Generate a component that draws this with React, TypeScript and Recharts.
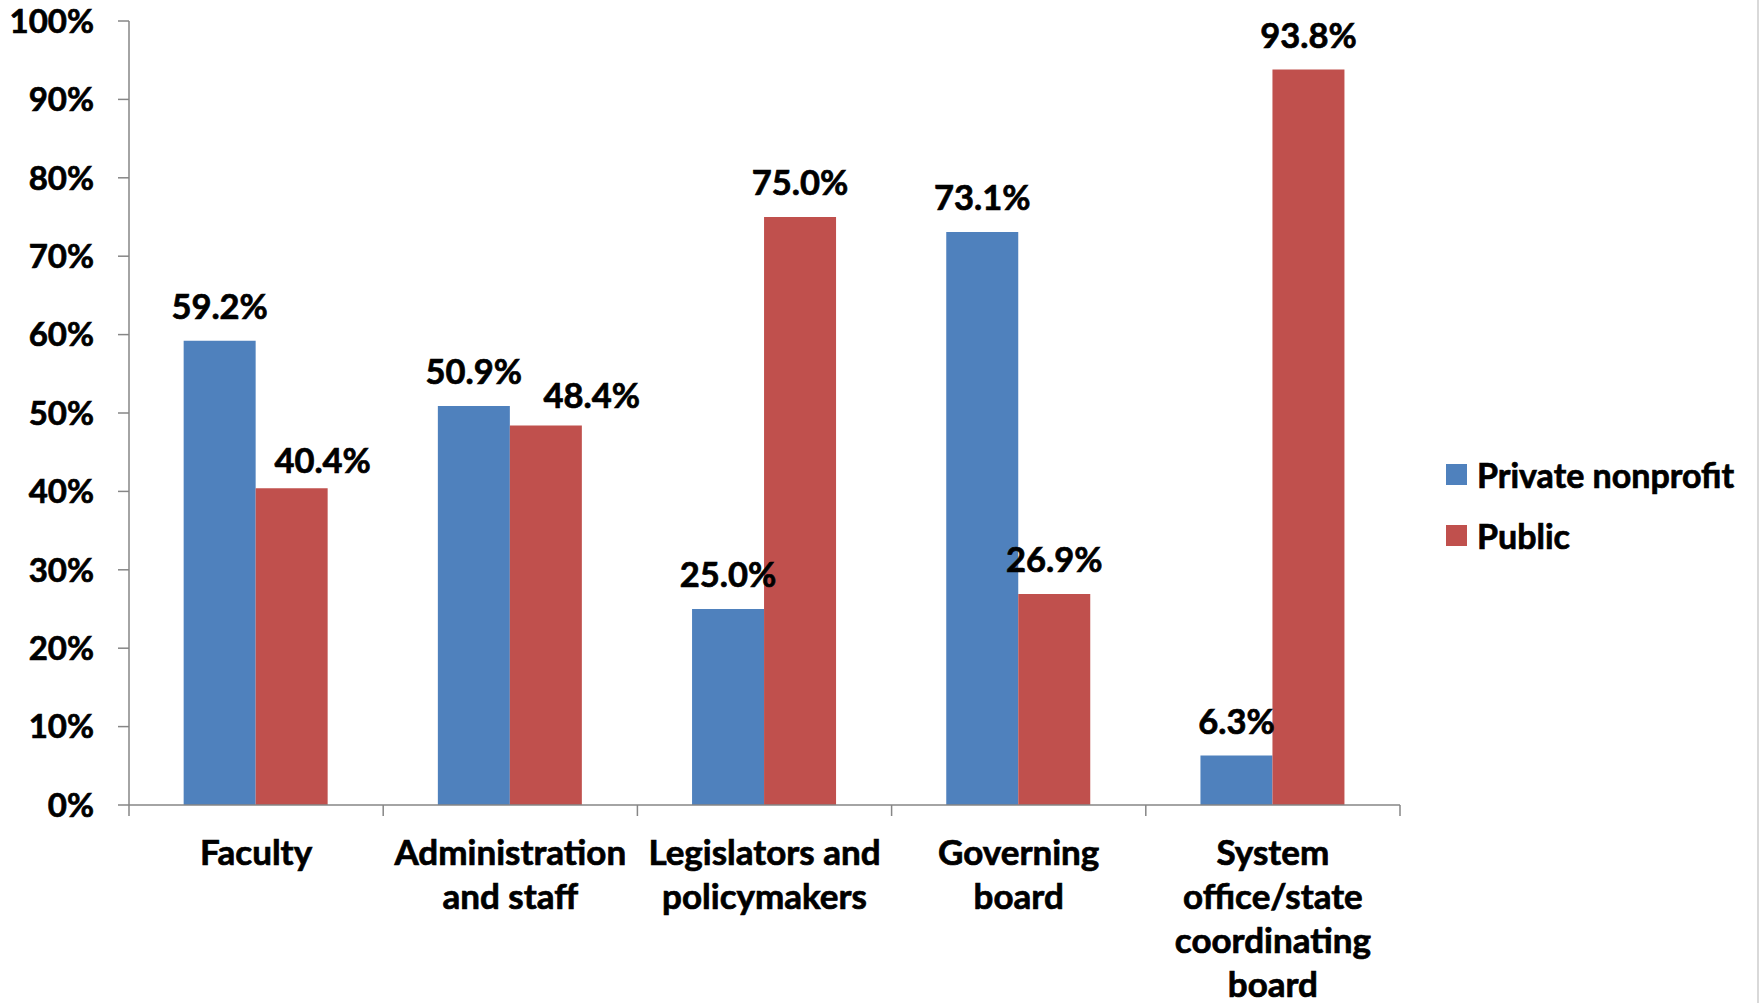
import React from 'react';
import { BarChart, Bar, XAxis, YAxis, Legend, LabelList } from 'recharts';

// categories (line breaks as in the original axis labels)
const categories = [
  'Faculty',
  'Administration\nand staff',
  'Legislators and\npolicymakers',
  'Governing\nboard',
  'System\noffice/state\ncoordinating\nboard',
];
const privateNonprofit = [59.2, 50.9, 25.0, 73.1, 6.3];
const publicInst = [40.4, 48.4, 75.0, 26.9, 93.8];
const yTicks = [0, 10, 20, 30, 40, 50, 60, 70, 80, 90, 100];

const seriesNames = { priv: 'Private nonprofit', pub: 'Public' };

const data = categories.map((name, i) => ({
  name,
  priv: privateNonprofit[i],
  pub: publicInst[i],
}));

const W = 1762;
const H = 1003;
const PLOT_LEFT = 129;
const PLOT_RIGHT = 1400;
const PLOT_TOP = 21;
const PLOT_BOTTOM = 805;
const BAND = (PLOT_RIGHT - PLOT_LEFT) / categories.length;
const FONT = 'Lato, "Open Sans", sans-serif';
const AXIS_GRAY = '#868686';
const TEXT_STROKE = 0.7;

// the original had two of the Public labels dragged aside so they don't collide
const pubLabelNudge: Record<number, [number, number]> = { 0: [31, 7], 1: [46, 4] };

function CategoryTick(props: any) {
  const { x, payload, index } = props;
  const lines = String(payload.value).split('\n');
  const left = x - BAND / 2;
  const right = x + BAND / 2;
  return (
    <g>
      <line x1={left} x2={left} y1={PLOT_BOTTOM} y2={PLOT_BOTTOM + 11} stroke={AXIS_GRAY} strokeWidth={1.5} />
      {index === categories.length - 1 && (
        <line x1={right} x2={right} y1={PLOT_BOTTOM} y2={PLOT_BOTTOM + 11} stroke={AXIS_GRAY} strokeWidth={1.5} />
      )}
      <text
        textAnchor="middle"
        fontFamily={FONT}
        fontWeight={700}
        fontSize={35}
        fill="#000"
        stroke="#000"
        strokeWidth={TEXT_STROKE}
      >
        {lines.map((l, i) => (
          <tspan key={i} x={x} y={PLOT_BOTTOM + 60 + i * 44}>
            {l}
          </tspan>
        ))}
      </text>
    </g>
  );
}

function ValueLabel(props: any) {
  const { x, y, width, value, index, nudge } = props;
  const [dx, dy] = (nudge && nudge[index]) || [0, 0];
  return (
    <text
      x={x + width / 2 + dx}
      y={y - 22 + dy}
      textAnchor="middle"
      fontFamily={FONT}
      fontWeight={700}
      fontSize={34.5}
      fill="#000"
      stroke="#000"
      strokeWidth={TEXT_STROKE}
    >
      {`${Number(value).toFixed(1)}%`}
    </text>
  );
}

function YTick(props: any) {
  const { x, y, payload } = props;
  return (
    <text
      x={x}
      y={y}
      dy="0.355em"
      textAnchor="end"
      fontFamily={FONT}
      fontWeight={700}
      fontSize={33}
      fill="#000"
      stroke="#000"
      strokeWidth={TEXT_STROKE}
    >
      {`${payload.value}%`}
    </text>
  );
}

function LegendBox(props: any) {
  const { payload } = props;
  return (
    <div
      style={{
        fontFamily: FONT,
        fontWeight: 700,
        fontSize: 34,
        color: '#000',
        WebkitTextStroke: `${TEXT_STROKE}px #000`,
        whiteSpace: 'nowrap',
      }}
    >
      {(payload || []).map((p: any) => (
        <div key={p.value} style={{ display: 'flex', alignItems: 'center', height: 61 }}>
          <span style={{ width: 21, height: 21, background: p.color, marginRight: 10, display: 'inline-block' }} />
          <span>{p.value}</span>
        </div>
      ))}
    </div>
  );
}

export default function App() {
  return (
    <div style={{ position: 'fixed', left: 0, top: 0, width: W, height: H, background: '#fff' }}>
      <BarChart
        width={W}
        height={H}
        data={data}
        margin={{ top: PLOT_TOP, right: W - PLOT_RIGHT, bottom: 0, left: 0 }}
        barCategoryGap="21.5%"
        barGap={0}
        style={{ fontFamily: FONT }}
      >
        <XAxis
          dataKey="name"
          height={H - PLOT_BOTTOM}
          tickLine={false}
          axisLine={{ stroke: AXIS_GRAY, strokeWidth: 1.5 }}
          tick={<CategoryTick />}
          interval={0}
        />
        <YAxis
          width={PLOT_LEFT}
          domain={[0, 100]}
          ticks={yTicks}
          tickSize={11}
          tickMargin={24}
          tickLine={{ stroke: AXIS_GRAY, strokeWidth: 1.5 }}
          axisLine={{ stroke: AXIS_GRAY, strokeWidth: 1.5 }}
          tick={<YTick />}
        />
        <Legend
          layout="horizontal"
          verticalAlign="middle"
          align="center"
          content={<LegendBox />}
          wrapperStyle={{ left: 1446, top: 444, width: 315 }}
        />
        <Bar dataKey="priv" name={seriesNames.priv} fill="#4F81BD" isAnimationActive={false}>
          <LabelList dataKey="priv" content={<ValueLabel />} />
        </Bar>
        <Bar dataKey="pub" name={seriesNames.pub} fill="#C0504D" isAnimationActive={false}>
          <LabelList dataKey="pub" content={<ValueLabel nudge={pubLabelNudge} />} />
        </Bar>
      </BarChart>
      <div style={{ position: 'absolute', left: 1757, top: 0, width: 2, height: H, background: '#d9d9d9' }} />
    </div>
  );
}
